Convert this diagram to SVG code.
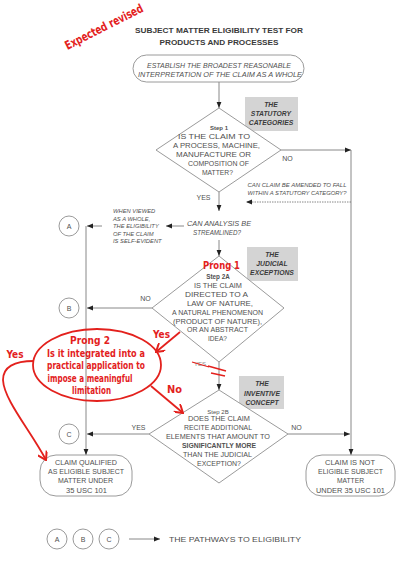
<svg xmlns="http://www.w3.org/2000/svg" width="403" height="561" viewBox="0 0 403 561">
<style>
.t{font-family:"Liberation Sans",Arial,sans-serif;fill:#505050;text-anchor:middle;font-size:7px}
.i{font-style:italic}
.b{font-weight:bold}
.s{font-size:5.8px}
.g{font-family:"Liberation Sans",Arial,sans-serif;font-weight:bold;font-style:italic;font-size:6.8px;fill:#3a3a3a;text-anchor:middle}
.ln{stroke:#6a6a6a;stroke-width:0.8;fill:none}
.sh{stroke:#8f8f8f;stroke-width:0.9;fill:#fff}
.gb{fill:#d4d4d4}
.r{font-family:"DejaVu Sans Condensed","DejaVu Sans",sans-serif;font-stretch:condensed;fill:#e3211d;font-size:11px;text-anchor:middle;font-weight:bold}
.rl{stroke:#e3211d;stroke-width:1.8;fill:none}
</style>
<defs>
<marker id="ah" viewBox="0 0 10 10" refX="10" refY="5" markerWidth="6" markerHeight="6" markerUnits="userSpaceOnUse" orient="auto">
<path d="M0,1 L10,5 L0,9 Z" fill="#222"/>
</marker>
<marker id="rh" viewBox="0 0 10 10" refX="9" refY="5" markerWidth="10" markerHeight="10" markerUnits="userSpaceOnUse" orient="auto">
<path d="M1,0 L9,5 L1,10" fill="none" stroke="#e3211d" stroke-width="2"/>
</marker>
</defs>
<rect width="403" height="561" fill="#fff"/>

<g id="title">
<text class="t b" x="219" y="33" style="fill:#3a3a3a;font-size:8px" textLength="168" lengthAdjust="spacingAndGlyphs">SUBJECT MATTER ELIGIBILITY TEST FOR</text>
<text class="t b" x="219" y="45" style="fill:#3a3a3a;font-size:8px" textLength="119" lengthAdjust="spacingAndGlyphs">PRODUCTS AND PROCESSES</text>
</g>

<g id="annotation-expected">
<text class="r" x="104" y="31" style="font-size:12px" transform="rotate(-27 104 27)" textLength="86" lengthAdjust="spacingAndGlyphs">Expected revised</text>
</g>

<g id="connectors">
<line class="ln" x1="219" y1="82" x2="219" y2="108" marker-end="url(#ah)"/>
<line class="ln" x1="281" y1="150" x2="351" y2="150" marker-end="url(#ah)"/>
<line class="ln" x1="351" y1="150" x2="351" y2="455" marker-end="url(#ah)"/>
<line class="ln" x1="351" y1="202" x2="246" y2="202" stroke-dasharray="1.5,1" marker-end="url(#ah)"/>
<line class="ln" x1="219" y1="192" x2="219" y2="211" marker-end="url(#ah)"/>
<line class="ln" x1="184" y1="226" x2="166" y2="226" marker-end="url(#ah)"/>
<line class="ln" x1="102" y1="226" x2="87" y2="226" marker-end="url(#ah)"/>
<line class="ln" x1="86" y1="226" x2="86" y2="455" marker-end="url(#ah)"/>
<line class="ln" x1="219" y1="240" x2="219" y2="256" marker-end="url(#ah)"/>
<line class="ln" x1="152" y1="308" x2="87" y2="308" marker-end="url(#ah)"/>
<line class="ln" x1="219" y1="362" x2="219" y2="390" marker-end="url(#ah)"/>
<line class="ln" x1="149" y1="434" x2="87" y2="434" marker-end="url(#ah)"/>
<line class="ln" x1="288" y1="434" x2="350" y2="434" marker-end="url(#ah)"/>
<line class="ln" x1="129" y1="539" x2="160" y2="539" marker-end="url(#ah)"/>
</g>

<g id="start">
<rect class="sh" x="133" y="55" width="171" height="27" rx="13.5"/>
<text class="t i" x="219" y="68" textLength="144" lengthAdjust="spacingAndGlyphs">ESTABLISH THE BROADEST REASONABLE</text>
<text class="t i" x="220" y="77" textLength="164" lengthAdjust="spacingAndGlyphs">INTERPRETATION OF THE CLAIM AS A WHOLE</text>
</g>

<g id="label-statutory">
<rect class="gb" x="245" y="97" width="53" height="34"/>
<text class="g" x="271" y="107">THE</text>
<text class="g" x="271" y="116">STATUTORY</text>
<text class="g" x="271" y="125">CATEGORIES</text>
</g>

<g id="step1">
<polygon class="sh" points="219,108 281,150 219,192 156,150"/>
<text class="t b" x="219" y="130" style="font-size:6px">Step 1</text>
<text class="t" x="214" y="139" textLength="72" lengthAdjust="spacingAndGlyphs">IS THE CLAIM TO</text>
<text class="t" x="216.5" y="148" textLength="87" lengthAdjust="spacingAndGlyphs">A PROCESS, MACHINE,</text>
<text class="t" x="213.5" y="157" textLength="75" lengthAdjust="spacingAndGlyphs">MANUFACTURE OR</text>
<text class="t" x="218.5" y="166" textLength="61" lengthAdjust="spacingAndGlyphs">COMPOSITION OF</text>
<text class="t" x="217.5" y="175" textLength="31" lengthAdjust="spacingAndGlyphs">MATTER?</text>
<text class="t" x="287.5" y="161">NO</text>
<text class="t" x="203.5" y="200">YES</text>
<text class="t i s" x="297" y="187" textLength="99" lengthAdjust="spacingAndGlyphs">CAN CLAIM BE AMENDED TO FALL</text>
<text class="t i s" x="297" y="195" textLength="99" lengthAdjust="spacingAndGlyphs">WITHIN A STATUTORY CATEGORY?</text>
</g>

<g id="streamline">
<text class="t i" x="219" y="226" textLength="64" lengthAdjust="spacingAndGlyphs">CAN ANALYSIS BE</text>
<text class="t i" x="217" y="235" textLength="48" lengthAdjust="spacingAndGlyphs">STREAMLINED?</text>
<text class="t i s" x="113" y="213" style="text-anchor:start">WHEN VIEWED</text>
<text class="t i s" x="113" y="220.5" style="text-anchor:start">AS A WHOLE,</text>
<text class="t i s" x="113" y="228" style="text-anchor:start">THE ELIGIBILITY</text>
<text class="t i s" x="113" y="235.5" style="text-anchor:start">OF THE CLAIM</text>
<text class="t i s" x="113" y="243" style="text-anchor:start">IS SELF-EVIDENT</text>
</g>

<g id="circle-a">
<circle class="sh" cx="69" cy="226" r="10"/>
<text class="t" x="69" y="228.5">A</text>
</g>
<g id="circle-b">
<circle class="sh" cx="69" cy="308" r="10"/>
<text class="t" x="69" y="310.5">B</text>
</g>
<g id="circle-c">
<circle class="sh" cx="69" cy="434" r="10"/>
<text class="t" x="69" y="436.5">C</text>
</g>

<g id="label-judicial">
<rect class="gb" x="247" y="247" width="51" height="34"/>
<text class="g" x="272" y="257">THE</text>
<text class="g" x="272" y="266">JUDICIAL</text>
<text class="g" x="272" y="275">EXCEPTIONS</text>
</g>

<g id="step2a">
<polygon class="sh" points="219,256 284,308 219,362 152,308"/>
<text class="t b" x="218" y="279" style="font-size:6.3px">Step 2A</text>
<text class="t" x="218" y="288" textLength="48" lengthAdjust="spacingAndGlyphs">IS THE CLAIM</text>
<text class="t" x="216.5" y="297" textLength="63" lengthAdjust="spacingAndGlyphs">DIRECTED TO A</text>
<text class="t" x="220" y="306" textLength="66" lengthAdjust="spacingAndGlyphs">LAW OF NATURE,</text>
<text class="t" x="217.5" y="315" textLength="91" lengthAdjust="spacingAndGlyphs">A NATURAL PHENOMENON</text>
<text class="t" x="217.5" y="324" textLength="89" lengthAdjust="spacingAndGlyphs">(PRODUCT OF NATURE),</text>
<text class="t" x="217.5" y="332" textLength="61" lengthAdjust="spacingAndGlyphs">OR AN ABSTRACT</text>
<text class="t" x="217.5" y="341" textLength="19" lengthAdjust="spacingAndGlyphs">IDEA?</text>
<text class="t" x="145.5" y="301">NO</text>
</g>

<g id="label-inventive">
<rect class="gb" x="239" y="376" width="45" height="33"/>
<text class="g" x="262" y="386">THE</text>
<text class="g" x="262" y="395.5">INVENTIVE</text>
<text class="g" x="262" y="405">CONCEPT</text>
</g>

<g id="step2b">
<polygon class="sh" points="219,390 288,434 219,483 149,434"/>
<text class="t" x="218" y="413.5" style="font-size:6px">Step 2B</text>
<text class="t" x="219" y="421" textLength="62" lengthAdjust="spacingAndGlyphs">DOES THE CLAIM</text>
<text class="t" x="218" y="430" textLength="68" lengthAdjust="spacingAndGlyphs">RECITE ADDITIONAL</text>
<text class="t" x="218" y="439" textLength="104" lengthAdjust="spacingAndGlyphs">ELEMENTS THAT AMOUNT TO</text>
<text class="t b" x="219" y="448" textLength="74" lengthAdjust="spacingAndGlyphs">SIGNIFICANTLY MORE</text>
<text class="t" x="217.5" y="457" textLength="69" lengthAdjust="spacingAndGlyphs">THAN THE JUDICIAL</text>
<text class="t" x="219" y="466" textLength="44" lengthAdjust="spacingAndGlyphs">EXCEPTION?</text>
<text class="t" x="138.5" y="430">YES</text>
<text class="t" x="296.5" y="430">NO</text>
</g>

<g id="eligible">
<rect class="sh" x="40" y="455" width="92" height="41" rx="16"/>
<text class="t" x="86" y="465" textLength="62" lengthAdjust="spacingAndGlyphs">CLAIM QUALIFIED</text>
<text class="t" x="86" y="474" textLength="76" lengthAdjust="spacingAndGlyphs">AS ELIGIBLE SUBJECT</text>
<text class="t" x="85.5" y="483" textLength="55" lengthAdjust="spacingAndGlyphs">MATTER UNDER</text>
<text class="t" x="86.5" y="493" textLength="41" lengthAdjust="spacingAndGlyphs">35 USC 101</text>
</g>

<g id="not-eligible">
<rect class="sh" x="306" y="455" width="89" height="41" rx="16"/>
<text class="t" x="350" y="465" textLength="50" lengthAdjust="spacingAndGlyphs">CLAIM IS NOT</text>
<text class="t" x="350.5" y="474" textLength="65" lengthAdjust="spacingAndGlyphs">ELIGIBLE SUBJECT</text>
<text class="t" x="350.5" y="483" textLength="27" lengthAdjust="spacingAndGlyphs">MATTER</text>
<text class="t" x="350.5" y="493" textLength="69" lengthAdjust="spacingAndGlyphs">UNDER 35 USC 101</text>
</g>

<g id="legend">
<circle class="sh" cx="57" cy="539" r="10"/>
<text class="t" x="57" y="541.5">A</text>
<circle class="sh" cx="83" cy="539" r="10"/>
<text class="t" x="83" y="541.5">B</text>
<circle class="sh" cx="109" cy="539" r="10"/>
<text class="t" x="109" y="541.5">C</text>
<text class="t" x="235" y="542" textLength="132" lengthAdjust="spacingAndGlyphs">THE PATHWAYS TO ELIGIBILITY</text>
</g>

<g id="annotations-red">
<text class="r" x="221.5" y="269" textLength="37" lengthAdjust="spacingAndGlyphs">Prong 1</text>
<ellipse class="rl" cx="97" cy="365" rx="64" ry="36"/>
<text class="r" x="90" y="344" textLength="40" lengthAdjust="spacingAndGlyphs">Prong 2</text>
<text class="r" x="96" y="357" textLength="98" lengthAdjust="spacingAndGlyphs">Is it integrated into a</text>
<text class="r" x="96" y="369" textLength="98" lengthAdjust="spacingAndGlyphs">practical application to</text>
<text class="r" x="90" y="382" textLength="85" lengthAdjust="spacingAndGlyphs">impose a meaningful</text>
<text class="r" x="91.5" y="394" textLength="39" lengthAdjust="spacingAndGlyphs">limitation</text>
<text class="r" x="161.5" y="338" textLength="17" lengthAdjust="spacingAndGlyphs">Yes</text>
<text class="r" x="174.5" y="393" textLength="15" lengthAdjust="spacingAndGlyphs">No</text>
<text class="r" x="15" y="358" textLength="17" lengthAdjust="spacingAndGlyphs">Yes</text>
<line class="rl" x1="180" y1="332" x2="156" y2="352" marker-end="url(#rh)"/>
<line class="rl" x1="151" y1="386" x2="183" y2="413" marker-end="url(#rh)"/>
<path class="rl" d="M34,361 C14,361 3,367 3,380 C4,400 30,430 46,460" marker-end="url(#rh)"/>
<text x="200" y="366" font-family="Liberation Sans,Arial,sans-serif" font-size="6" fill="#888" text-anchor="middle">YES</text>
<line x1="192" y1="362" x2="209" y2="367" stroke="#e3211d" stroke-width="1.3"/>
<line x1="208" y1="366" x2="226" y2="371" stroke="#e3211d" stroke-width="1.6"/>
<line x1="211" y1="373" x2="225" y2="376" stroke="#e3211d" stroke-width="1.6"/>
</g>
</svg>
